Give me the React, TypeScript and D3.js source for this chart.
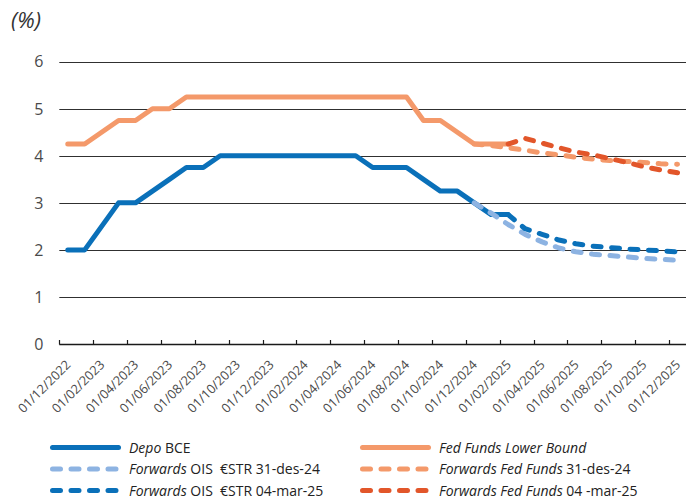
import React, { useEffect, useRef } from 'react';
import * as d3 from 'd3';

// monthly categories, Dec 2022 .. Dec 2025
const months = [
  '01/12/2022', '01/01/2023', '01/02/2023', '01/03/2023', '01/04/2023', '01/05/2023',
  '01/06/2023', '01/07/2023', '01/08/2023', '01/09/2023', '01/10/2023', '01/11/2023',
  '01/12/2023', '01/01/2024', '01/02/2024', '01/03/2024', '01/04/2024', '01/05/2024',
  '01/06/2024', '01/07/2024', '01/08/2024', '01/09/2024', '01/10/2024', '01/11/2024',
  '01/12/2024', '01/01/2025', '01/02/2025', '01/03/2025', '01/04/2025', '01/05/2025',
  '01/06/2025', '01/07/2025', '01/08/2025', '01/09/2025', '01/10/2025', '01/11/2025',
  '01/12/2025',
];

const yTicks = [0, 1, 2, 3, 4, 5, 6];

// Depo BCE, from 01/12/2022
const depoBCE = [
  2.0, 2.0, 2.5, 3.0, 3.0, 3.25, 3.5, 3.75, 3.75, 4.0, 4.0, 4.0,
  4.0, 4.0, 4.0, 4.0, 4.0, 4.0, 3.75, 3.75, 3.75, 3.5, 3.25, 3.25,
  3.0, 2.75, 2.75,
];

// Fed Funds Lower Bound, from 01/12/2022
const fedFunds = [
  4.25, 4.25, 4.5, 4.75, 4.75, 5.0, 5.0, 5.25, 5.25, 5.25, 5.25, 5.25,
  5.25, 5.25, 5.25, 5.25, 5.25, 5.25, 5.25, 5.25, 5.25, 4.75, 4.75, 4.5,
  4.25, 4.25, 4.25,
];

// Forwards OIS €STR 31-des-24, from 01/12/2024
const oisDec = [3.0, 2.78, 2.54, 2.33, 2.17, 2.04, 1.96, 1.91, 1.88, 1.85, 1.82, 1.8, 1.78];
// Forwards OIS €STR 04-mar-25, from 01/02/2025
const oisMar = [2.75, 2.45, 2.33, 2.21, 2.13, 2.08, 2.05, 2.02, 2.0, 1.98, 1.96];
// Forwards Fed Funds 31-des-24, from 01/12/2024
const ffDec = [4.25, 4.22, 4.17, 4.12, 4.06, 4.02, 3.97, 3.93, 3.9, 3.88, 3.86, 3.83, 3.82];
// Forwards Fed Funds 04-mar-25, from 01/02/2025
const ffMar = [4.25, 4.37, 4.27, 4.17, 4.08, 4.02, 3.94, 3.86, 3.77, 3.7, 3.64];

const BLUE = '#0a70b9';
const LIGHT_BLUE = '#8db3e2';
const ORANGE = '#f4996a';
const DARK_ORANGE = '#e2562a';

const series = [
  { start: '01/12/2022', values: depoBCE, color: BLUE, dashed: false },
  { start: '01/12/2022', values: fedFunds, color: ORANGE, dashed: false },
  { start: '01/12/2024', values: ffDec, color: ORANGE, dashed: true },
  { start: '01/12/2024', values: oisDec, color: LIGHT_BLUE, dashed: true },
  { start: '01/02/2025', values: oisMar, color: BLUE, dashed: true },
  { start: '01/02/2025', values: ffMar, color: DARK_ORANGE, dashed: true },
];

const legendItems = [
  { col: 0, row: 0, color: BLUE, dashed: false, parts: [['Depo', true], [' BCE', false]] },
  { col: 0, row: 1, color: LIGHT_BLUE, dashed: true, parts: [['Forwards', true], [' OIS  €STR 31-des-24', false]] },
  { col: 0, row: 2, color: BLUE, dashed: true, parts: [['Forwards', true], [' OIS  €STR 04-mar-25', false]] },
  { col: 1, row: 0, color: ORANGE, dashed: false, parts: [['Fed Funds Lower Bound', true]] },
  { col: 1, row: 1, color: ORANGE, dashed: true, parts: [['Forwards Fed Funds', true], [' 31-des-24', false]] },
  { col: 1, row: 2, color: DARK_ORANGE, dashed: true, parts: [['Forwards Fed Funds', true], [' 04 -mar-25', false]] },
];

const FONT = '"Open Sans", "Noto Sans", sans-serif';
const TEXT = '#333333';
const DASH = '8,10.5';

const App = () => {
  const ref = useRef<SVGSVGElement>(null);

  useEffect(() => {
    const svg = d3.select(ref.current);
    svg.selectAll('*').remove();

    const left = 59.3;
    const right = 686;
    const x = d3.scaleBand().domain(months).range([left, right]).padding(0);
    const y = d3.scaleLinear().domain([0, 6]).range([344, 61.7]);
    const cx = (m: string) => (x(m) as number) + x.bandwidth() / 2;

    svg.append('text')
      .attr('x', 11).attr('y', 28)
      .attr('font-family', FONT).attr('font-size', 22).attr('font-style', 'italic')
      .attr('fill', TEXT)
      .text('(%)');

    // gridlines
    svg.append('g').selectAll('line')
      .data(yTicks.filter(d => d > 0))
      .enter().append('line')
      .attr('x1', left).attr('x2', right)
      .attr('y1', d => Math.round(y(d)) + 0.5).attr('y2', d => Math.round(y(d)) + 0.5)
      .attr('stroke', '#303030').attr('stroke-width', 1.2);

    svg.append('g').selectAll('text')
      .data(yTicks)
      .enter().append('text')
      .attr('x', 43.5).attr('y', d => y(d))
      .attr('dy', '0.36em')
      .attr('text-anchor', 'end')
      .attr('font-family', FONT).attr('font-size', 16)
      .attr('fill', '#4a4a4a')
      .text(d => d);

    // x axis
    const axisY = Math.round(y(0)) + 0.5;
    svg.append('line')
      .attr('x1', left).attr('x2', right).attr('y1', axisY).attr('y2', axisY)
      .attr('stroke', '#1a1a1a').attr('stroke-width', 1.5);
    const tickMonths = months.filter((_, i) => i % 2 === 0);
    svg.append('g').selectAll('line')
      .data(tickMonths)
      .enter().append('line')
      .attr('x1', d => Math.round(x(d) as number) + 0.5)
      .attr('x2', d => Math.round(x(d) as number) + 0.5)
      .attr('y1', axisY - 4.5).attr('y2', axisY)
      .attr('stroke', '#1a1a1a').attr('stroke-width', 1.2);

    svg.append('g').selectAll('text')
      .data(tickMonths)
      .enter().append('text')
      .attr('transform', d => `translate(${cx(d) + 0.5},${axisY + 18}) rotate(-45)`)
      .attr('text-anchor', 'end')
      .attr('dy', '0.35em')
      .attr('font-family', FONT).attr('font-size', 12.8)
      .attr('fill', '#4a4a4a')
      .text(d => d);

    // lines
    const line = d3.line<[number, number]>()
      .x(d => d[0]).y(d => d[1]);
    series.forEach(s => {
      const i0 = months.indexOf(s.start);
      const pts = s.values.map((v, i) => [cx(months[i0 + i]), y(v)] as [number, number]);
      svg.append('path')
        .attr('d', line(pts))
        .attr('fill', 'none')
        .attr('stroke', s.color)
        .attr('stroke-width', 5)
        .attr('stroke-linecap', 'round')
        .attr('stroke-linejoin', 'round')
        .attr('stroke-dasharray', s.dashed ? DASH : null);
    });

    // legend
    const colX = [50, 360];
    const rowY = [447.5, 469, 490.5];
    const lg = svg.append('g');
    legendItems.forEach(it => {
      const lx = colX[it.col];
      const ly = rowY[it.row];
      lg.append('line')
        .attr('x1', lx + 2.5).attr('x2', lx + 68.5).attr('y1', ly).attr('y2', ly)
        .attr('stroke', it.color).attr('stroke-width', 5)
        .attr('stroke-linecap', 'round')
        .attr('stroke-dasharray', it.dashed ? DASH : null);
      const t = lg.append('text')
        .attr('x', lx + 79).attr('y', ly).attr('dy', '0.36em')
        .attr('font-family', FONT).attr('font-size', 14)
        .attr('fill', '#222');
      it.parts.forEach(([s, ital]) => {
        t.append('tspan')
          .attr('font-style', ital ? 'italic' : 'normal')
          .attr('xml:space', 'preserve')
          .text(s as string);
      });
    });
  }, []);

  return (
    <svg
      ref={ref}
      width={694}
      height={499}
      style={{ position: 'absolute', left: 0, top: 0, background: '#fff' }}
    />
  );
};

export default App;
